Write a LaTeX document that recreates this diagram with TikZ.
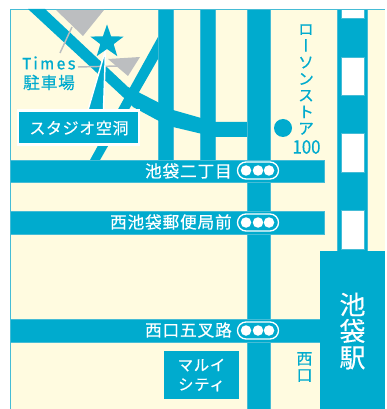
\documentclass[tikz,border=0pt]{standalone}
\usepackage{fontspec}
\usetikzlibrary{shapes.geometric}
\setmainfont[FakeBold=0.35]{Noto Sans CJK JP}
\newfontfamily\jp[LetterSpace=5,FakeBold=0.35]{Noto Sans CJK JP}
\newfontfamily\jpt[LetterSpace=4,FakeBold=0.35]{Noto Sans CJK JP}
\newfontfamily\jpv[RawFeature={+vert},FakeBold=0.35]{Noto Sans CJK JP}
\newfontfamily\lat[LetterSpace=13,FakeBold=0.3]{Fira Sans}
\definecolor{teal}{HTML}{00ABCE}
\definecolor{cream}{HTML}{FFFBE0}
\definecolor{edgeblue}{HTML}{45BCD6}
\definecolor{greyish}{HTML}{BCBEC0}
\tikzset{
  road/.style={fill=teal,draw=none},
  roadline/.style={fill=teal,draw=edgeblue,line width=.6pt},
  whitetxt/.style={text=white,inner sep=0pt,font=\fontsize{12.5}{14}\jp},
  tealtxt/.style={text=teal,inner sep=0pt},
  lamp/.style={circle,fill=white,minimum size=10.5*.75pt,inner sep=0pt},
  pill/.style={draw=white,line width=1pt,rounded corners=6.4pt,fill=teal,minimum width=41*.75pt,minimum height=17*.75pt,inner sep=0pt},
  leader/.style={draw=greyish,line width=1.1pt},
  grey/.style={fill=greyish,draw=none},
}
\begin{document}
\begin{tikzpicture}[x=.75pt,y=-.75pt]
\useasboundingbox (0,0) rectangle (386,409);
% ground
\fill[white] (0,0) rectangle (386,409);
\fill[cream] (10,9) rectangle (385,409);
\draw[edgeblue,line width=.8pt] (10.5,409) -- (10.5,9.5) -- (385,9.5);
% grey parking markers
\fill[grey] (56,10) -- (104,10) -- (83,36) -- cycle;
\fill[grey] (108,59) -- (140,57) -- (128,76) -- cycle;
% vertical roads
\path[roadline] (158,9) rectangle (173,161);
\path[roadline] (200,9) rectangle (215,161);
% diagonal roads
\fill[road] (28,9) -- (45,9) -- (128,87) -- (140,93) -- (173,110) -- (215,122) -- (248,122) -- (248,137) -- (215,137) -- (173,127) -- (157,120) -- (133,107) -- (123,97) -- cycle;
\fill[road] (158,37) -- (158,59) -- (100,160) -- (90,160) -- cycle;
% main roads
\path[roadline] (247,9) rectangle (270,409);
\path[roadline] (10,160) rectangle (324,182);
\path[roadline] (10,211) rectangle (324,234);
\path[roadline] (10,319) rectangle (324,342);
% railway and station
\path[roadline] (337,9) rectangle (367,252);
\foreach \a/\b in {9.5/18,57/95,133/172,210/249}
  \path[fill=white,draw=edgeblue,line width=.4pt] (341,\a) rectangle (364,\b);
\fill[road] (320,251) rectangle (385,409);
% leaders
\draw[leader] (72,27) -- (60,53);
\draw[leader] (78,67) -- (118,66);
% star pointer
\path[fill=teal,draw=white,line width=1.1pt] (105.5,50) -- (103.5,110) -- (88,110) -- cycle;
\node[star,star points=5,star point ratio=2.5,fill=teal,inner sep=0pt,minimum size=35*.75pt] (star) at (107,42) {};
% studio label
\node[fill=teal,draw=white,line width=1.6pt,minimum width=121*.75pt,minimum height=34*.75pt,inner sep=0pt] (studio) at (78.5,127.5) {};
\node[whitetxt,font=\fontsize{12}{14}\jpt] (studiotext) at (79,128) {スタジオ空洞};
% Times
\node[tealtxt,font=\fontsize{12.5}{14}\lat] (times) at (49,63) {Times};
\node[tealtxt,font=\fontsize{12.5}{14}\jp] (parking) at (49,82.5) {駐車場};
% crossing names
\node[whitetxt,anchor=east] (nameA) at (232,171) {池袋二丁目};
\node[whitetxt,anchor=east] (nameB) at (232,222) {西池袋郵便局前};
\node[whitetxt,anchor=east] (nameC) at (232,330) {西口五叉路};
% signals
\node[pill] (pillA) at (258,170.5) {};
\node[lamp] (lampAa) at (246,170.5) {};
\node[lamp] (lampAb) at (258,170.5) {};
\node[lamp] (lampAc) at (269,170.5) {};
\node[pill] (pillB) at (258,222.5) {};
\node[lamp] (lampBa) at (246,222.5) {};
\node[lamp] (lampBb) at (258,222.5) {};
\node[lamp] (lampBc) at (269,222.5) {};
\node[pill] (pillC) at (258,330.5) {};
\node[lamp] (lampCa) at (246,330.5) {};
\node[lamp] (lampCb) at (258,330.5) {};
\node[lamp] (lampCc) at (269,330.5) {};
% lawson
\node[fill=teal,circle,minimum size=18*.75pt,inner sep=0pt] (dot) at (283,128) {};
\node[tealtxt,align=center,font=\fontsize{12}{12.4}\jpv] (lawson) at (306,79.5) {ロ\\ー\\ソ\\ン\\ス\\ト\\ア};
\node[tealtxt,font=\fontsize{14}{14}\selectfont,xscale=.9] (hundred) at (306.5,147) {100};
% marui
\node[fill=teal,minimum width=75*.75pt,minimum height=48*.75pt,inner sep=0pt] (marui) at (201.5,375) {};
\node[whitetxt,align=center,font=\fontsize{11.5}{14.5}\jp] (maruitext) at (201.5,375) {マルイ\\シティ};
% west exit
\node[tealtxt,align=center,font=\fontsize{12}{12.4}\selectfont] (west) at (304.5,367) {西\\口};
% station
\node[text=white,inner sep=0pt,align=center,font=\fontsize{19.5}{19.8}\selectfont] (station) at (352.5,331) {池\\袋\\駅};
\end{tikzpicture}
\end{document}
